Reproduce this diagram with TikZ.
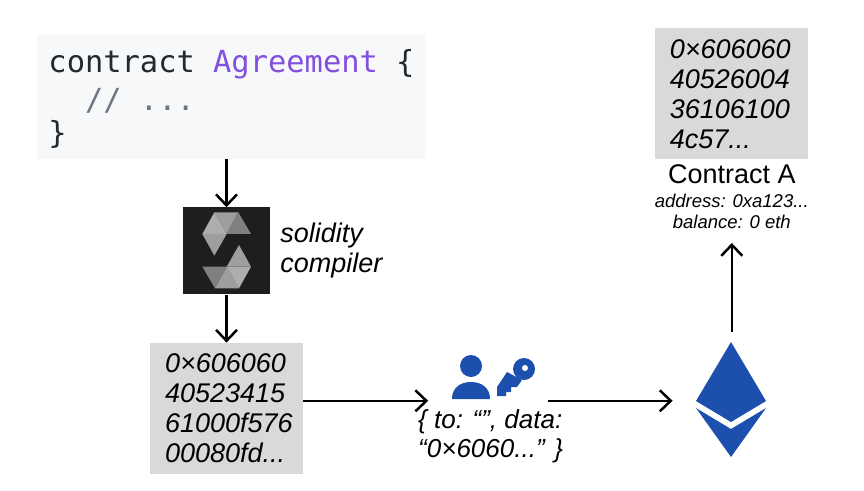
\documentclass[tikz,border=0pt]{standalone}
\usepackage{fontspec}
\setmainfont{Liberation Sans}
\setmonofont{DejaVu Sans Mono}
\usetikzlibrary{arrows.meta,positioning}
\definecolor{codebg}{HTML}{F6F8FA}
\definecolor{codetext}{HTML}{24292F}
\definecolor{codename}{HTML}{8250DF}
\definecolor{codenote}{HTML}{6E7781}
\definecolor{bytegrey}{HTML}{D9D9D9}
\definecolor{solcdark}{HTML}{1E1E1E}
\definecolor{ethblue}{HTML}{1C4FAE}
\tikzset{
  codebox/.style={fill=codebg, align=left, inner sep=0pt, minimum width=389pt,
    minimum height=125pt, text=codetext, font=\ttfamily\fontsize{30.4}{36}\selectfont},
  bytebox/.style={fill=bytegrey, align=left, inner sep=0pt, minimum height=131pt,
    minimum width=153pt, text width=123pt, font=\itshape\fontsize{27}{30}\selectfont},
  plainlabel/.style={inner sep=0pt, align=left, font=\itshape\fontsize{27}{30}\selectfont},
  solcbox/.style={fill=solcdark, inner sep=0pt, minimum size=87pt},
  infolabel/.style={inner sep=0pt, align=center, font=\itshape\fontsize{18.5}{21}\selectfont},
  iconbox/.style={inner sep=0pt},
  arr/.style={-{Straight Barb[length=11pt,width=21pt,line width=2.5pt]}, line width=2.5pt}
}
\begin{document}
\begin{tikzpicture}[x=1pt,y=-1pt]
    \useasboundingbox (0,0) rectangle (864,490);
    \node[codebox] (code) at (231.5,96.5) {\rule{0pt}{27pt}contract {\color{codename}Agreement} \{\\[2pt]\hspace*{36.6pt}{\color{codenote}// ...}\\[-3pt]\}};
    \node[solcbox, below=48pt of code, xshift=-5pt] (compiler) {};
    \node[plainlabel, right=10pt of compiler] (compilerlabel) {solidity\\compiler};
    \node[bytebox, below=48pt of compiler] (bytecode) {0×606060\\40523415\\61000f576\\00080fd...};
    \node[iconbox, minimum width=119pt, minimum height=40pt, right=125pt of bytecode, yshift=7.5pt] (signer) {};
    \node[plainlabel, font=\itshape\fontsize{26}{29}\selectfont, anchor=north west] (txlabel) at (418,409) {\{ to: “”, data:\\“0×6060...” \}};
    \node[iconbox, minimum width=118pt, minimum height=138pt, right=125pt of signer] (eth) {};
    \node[bytebox, text width=124pt, above=172pt of eth] (deployed) {0×606060\\40526004\\36106100\\4c57...};
    \node[inner sep=0pt, font=\fontsize{27}{30}\selectfont, below=5pt of deployed] (contractname) {Contract A};
    \node[infolabel, below=10pt of contractname] (contractinfo) {address: 0xa123...\\balance: 0 eth};
    \draw[arr] (code.south -| compiler.north) -- (compiler.north);
    \draw[arr] (compiler.south) -- (bytecode.north);
    \draw[arr] (signer.west -| bytecode.east) -- (signer.west);
    \draw[arr] (signer.east) -- (eth.west);
    \draw[arr] (eth.north) -- (contractinfo.south |- 0,243);
    % solidity logo
    \begin{scope}[shift={(170,190)},x=0.3333pt,y=-0.3333pt]
      \fill[white!62!black] (133,67) -- (205,67) -- (170,132) -- cycle;
      \fill[white!50!black] (205,67) -- (243,132) -- (170,132) -- cycle;
      \fill[white!68!black] (133,67) -- (170,132) -- (97,132) -- cycle;
      \fill[white!62!black] (97,132) -- (170,132) -- (133,197) -- cycle;
      \fill[white!62!black] (207,295) -- (135,295) -- (170,230) -- cycle;
      \fill[white!50!black] (135,295) -- (97,230) -- (170,230) -- cycle;
      \fill[white!68!black] (207,295) -- (170,230) -- (243,230) -- cycle;
      \fill[white!62!black] (243,230) -- (170,230) -- (207,165) -- cycle;
    \end{scope}
    % signer icons
    \fill[ethblue] (471,366) circle (11);
    \fill[ethblue] (452,399) .. controls (452,388) and (460,382) .. (471,382)
      .. controls (482,382) and (490,388) .. (490,399) -- cycle;
    \fill[ethblue] (524,369) circle (11);
    \fill[ethblue] (507,372) -- (497,387) -- (497,396) -- (506,396) -- (506,392) -- (511,392)
      -- (511,387) -- (517,387) -- (522,380) -- cycle;
    \fill[white] (525,368) circle (3);
    % ether diamond
    \fill[ethblue] (731,342) -- (766,401) -- (731,422) -- (696,401) -- cycle;
    \fill[ethblue] (696,408) -- (731,429) -- (766,408) -- (731,457) -- cycle;
  \end{tikzpicture}
\end{document}
